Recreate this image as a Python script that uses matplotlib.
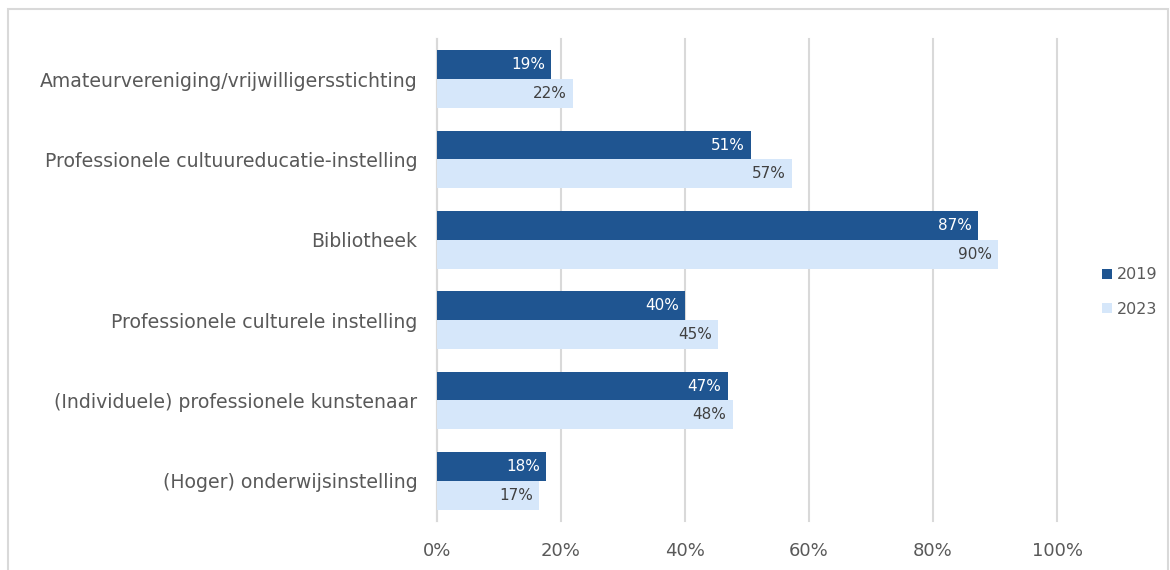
import matplotlib.pyplot as plt
import numpy as np
from matplotlib.patches import Rectangle

# data (top to bottom)
categories = [
    "Amateurvereniging/vrijwilligersstichting",
    "Professionele cultuureducatie-instelling",
    "Bibliotheek",
    "Professionele culturele instelling",
    "(Individuele) professionele kunstenaar",
    "(Hoger) onderwijsinstelling",
]
vals_2019 = [18.4, 50.6, 87.3, 40.0, 46.9, 17.6]
vals_2023 = [21.9, 57.3, 90.5, 45.3, 47.7, 16.5]
labels_2019 = ["19%", "51%", "87%", "40%", "47%", "18%"]
labels_2023 = ["22%", "57%", "90%", "45%", "48%", "17%"]
series = ["2019", "2023"]

dark = "#1F5591"
light = "#D6E7FA"
grey_txt = "#595959"

plt.rcParams['font.family'] = ['DejaVu Sans']

fig = plt.figure(figsize=(11.7, 5.7), dpi=100)
ax = fig.add_axes([437 / 1170, 1 - 521 / 570, 620 / 1170, 482 / 570])

# frame around the chart
fig.patches.append(Rectangle((8 / 1170, -0.05), 1160 / 1170, 1.05 - 9 / 570,
                             transform=fig.transFigure, fill=False,
                             edgecolor="#D9D9D9", linewidth=1.5))

y = np.arange(len(categories))
h = 0.36
ax.barh(y - h / 2, vals_2019, height=h, color=dark, label=series[0], zorder=3)
ax.barh(y + h / 2, vals_2023, height=h, color=light, label=series[1], zorder=3)

for i in range(len(categories)):
    ax.text(vals_2019[i] - 1.0, y[i] - h / 2, labels_2019[i], ha="right", va="center",
            color="white", fontsize=11, zorder=4)
    ax.text(vals_2023[i] - 1.0, y[i] + h / 2, labels_2023[i], ha="right", va="center",
            color="#404040", fontsize=11, zorder=4)

ax.set_ylim(len(categories) - 0.5, -0.5)
ax.set_xlim(0, 100)
ax.set_yticks(y)
ax.set_yticklabels(categories, fontsize=13.6, color=grey_txt)
ax.set_xticks(np.arange(0, 101, 20))
ax.set_xticklabels([f"{v}%" for v in range(0, 101, 20)], fontsize=13, color=grey_txt)
ax.tick_params(axis="both", length=0)
ax.tick_params(axis="y", pad=14)
ax.tick_params(axis="x", pad=15)

ax.grid(axis="x", color="#D9D9D9", linewidth=1.5, zorder=0)
for gl in ax.get_xgridlines():
    gl.set_clip_on(False)
for s in ["top", "right", "bottom"]:
    ax.spines[s].set_visible(False)
ax.spines["left"].set_color("#D9D9D9")
ax.spines["left"].set_linewidth(1.5)

leg = fig.legend(loc="center left", bbox_to_anchor=(1102 / 1170, 1 - 292 / 570),
                 frameon=False, fontsize=11.5, handlelength=0.6, handleheight=0.6,
                 handletextpad=0.3, labelspacing=1.2, labelcolor=grey_txt,
                 borderpad=0, borderaxespad=0)

fig.savefig("out.png", dpi=100)
